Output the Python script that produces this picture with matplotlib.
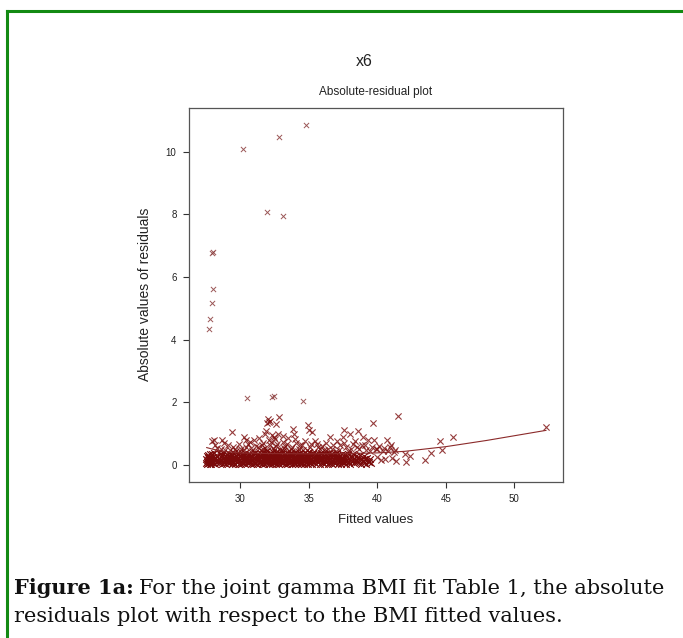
import matplotlib
matplotlib.use("Agg")
import matplotlib.pyplot as plt
from matplotlib.lines import Line2D

# ---------------- data ----------------
band_fitted = [
    27.51,27.53,27.56,27.58,27.60,27.62,27.65,27.67,27.70,27.72,27.75,27.77,27.79,27.82,27.84,27.87,27.89,27.92,27.95,27.97,28.00,28.04,28.07,28.11,28.15,28.19,28.24,28.30,28.36,28.44,
    28.50,28.53,28.57,28.60,28.64,28.67,28.71,28.74,28.78,28.81,28.85,28.88,28.92,28.95,28.99,29.02,29.06,29.09,29.13,29.16,29.20,29.23,29.27,29.30,29.34,29.37,29.41,29.44,29.47,29.49,
    29.52,29.55,29.59,29.62,29.66,29.69,29.73,29.76,29.80,29.83,29.87,29.90,29.94,29.97,30.01,30.04,30.08,30.11,30.15,30.18,30.22,30.25,30.29,30.32,30.36,30.39,30.43,30.46,30.48,30.50,
    30.53,30.56,30.60,30.63,30.67,30.70,30.74,30.77,30.81,30.84,30.88,30.91,30.95,30.98,31.02,31.05,31.09,31.12,31.16,31.19,31.23,31.26,31.30,31.33,31.37,31.40,31.44,31.47,31.49,31.51,
    31.53,31.55,31.58,31.61,31.64,31.66,31.69,31.72,31.75,31.77,31.80,31.83,31.86,31.88,31.91,31.94,31.97,31.99,32.02,32.05,32.08,32.10,32.13,32.16,32.19,32.21,32.24,32.27,32.30,32.32,32.35,32.38,32.41,32.43,32.46,32.49,
    32.52,32.54,32.57,32.60,32.63,32.65,32.68,32.71,32.74,32.76,32.79,32.82,32.85,32.87,32.90,32.93,32.96,32.98,33.01,33.04,33.07,33.09,33.12,33.15,33.18,33.20,33.23,33.26,33.29,33.31,33.34,33.37,33.40,33.42,33.45,33.48,
    33.51,33.54,33.57,33.60,33.62,33.65,33.68,33.71,33.74,33.77,33.80,33.83,33.86,33.89,33.92,33.95,33.98,34.01,34.04,34.07,34.10,34.13,34.16,34.19,34.22,34.25,34.28,34.31,34.34,34.37,34.40,34.43,34.46,34.49,
    34.52,34.55,34.58,34.61,34.64,34.67,34.70,34.73,34.76,34.79,34.82,34.85,34.88,34.91,34.94,34.97,35.00,35.03,35.06,35.09,35.12,35.15,35.18,35.21,35.24,35.27,35.30,35.33,35.36,35.40,35.44,35.48,
    35.52,35.55,35.59,35.62,35.66,35.69,35.73,35.76,35.80,35.83,35.87,35.90,35.94,35.97,36.01,36.04,36.08,36.11,36.15,36.18,36.22,36.25,36.29,36.32,36.36,36.39,36.43,36.46,36.48,36.50,
    36.53,36.57,36.60,36.64,36.67,36.71,36.74,36.78,36.81,36.85,36.88,36.92,36.95,36.99,37.02,37.06,37.09,37.13,37.16,37.20,37.23,37.27,37.30,37.34,37.37,37.41,37.44,37.48,
    37.53,37.58,37.63,37.68,37.73,37.78,37.83,37.88,37.93,37.98,38.03,38.08,38.13,38.18,38.23,38.28,38.33,38.38,38.43,38.48,
    38.55,38.62,38.68,38.75,38.81,38.88,38.94,39.01,39.07,39.14,39.20,39.27,39.33,39.40,39.48,39.56,
]
band_resid = [
    0.05,0.18,0.09,0.27,0.14,0.03,0.22,0.11,0.31,0.07,0.19,0.25,0.02,0.13,0.35,0.08,0.21,0.04,0.33,0.12,0.26,0.07,0.17,0.38,0.01,0.23,0.10,0.29,0.15,0.06,
    0.20,0.34,0.09,0.24,0.16,0.02,0.30,0.12,0.37,0.06,0.21,0.14,0.27,0.04,0.19,0.32,0.10,0.23,0.13,0.28,0.05,0.20,0.35,0.09,0.17,0.25,0.03,0.31,0.11,0.22,
    0.07,0.39,0.15,0.26,0.01,0.18,0.29,0.08,0.33,0.12,0.22,0.04,0.36,0.16,0.27,0.10,0.02,0.24,0.31,0.14,0.06,0.20,0.28,0.11,0.37,0.03,0.17,0.25,0.09,0.32,
    0.19,0.05,0.28,0.13,0.36,0.08,0.22,0.01,0.30,0.16,0.26,0.10,0.34,0.04,0.21,0.12,0.39,0.07,0.24,0.17,0.29,0.02,0.14,0.33,0.09,0.20,0.27,0.06,0.18,0.35,
    0.11,0.27,0.04,0.33,0.18,0.08,0.40,0.23,0.14,0.02,0.30,0.19,0.06,0.36,0.25,0.12,0.44,0.09,0.21,0.31,0.03,0.16,0.28,0.38,0.07,0.24,0.13,0.35,0.01,0.20,0.29,0.10,0.42,0.17,0.05,0.26,
    0.32,0.08,0.19,0.41,0.03,0.26,0.14,0.35,0.06,0.22,0.29,0.11,0.38,0.01,0.17,0.24,0.09,0.33,0.20,0.05,0.27,0.13,0.44,0.07,0.30,0.16,0.23,0.02,0.36,0.12,0.19,0.28,0.04,0.39,0.15,0.25,
    0.10,0.34,0.21,0.05,0.28,0.15,0.39,0.08,0.24,0.02,0.31,0.18,0.12,0.36,0.06,0.26,0.20,0.42,0.03,0.14,0.30,0.09,0.23,0.35,0.01,0.17,0.27,0.11,0.38,0.07,0.22,0.32,0.04,0.19,
    0.26,0.07,0.33,0.16,0.01,0.22,0.38,0.11,0.29,0.05,0.19,0.35,0.13,0.24,0.03,0.31,0.09,0.21,0.40,0.15,0.06,0.27,0.18,0.34,0.02,0.12,0.25,0.37,0.08,0.20,0.30,0.14,
    0.04,0.23,0.36,0.12,0.28,0.08,0.19,0.33,0.02,0.25,0.15,0.39,0.10,0.21,0.30,0.06,0.17,0.27,0.01,0.35,0.13,0.22,0.09,0.31,0.18,0.04,0.26,0.14,0.37,0.07,
    0.18,0.31,0.05,0.24,0.12,0.36,0.02,0.20,0.28,0.09,0.15,0.33,0.06,0.22,0.27,0.11,0.38,0.03,0.17,0.25,0.08,0.30,0.14,0.21,0.01,0.34,0.10,0.19,
    0.22,0.07,0.30,0.13,0.02,0.26,0.16,0.35,0.09,0.20,0.04,0.28,0.12,0.24,0.33,0.06,0.18,0.10,0.27,0.14,
    0.08,0.25,0.15,0.32,0.03,0.20,0.11,0.28,0.06,0.17,0.02,0.23,0.13,0.09,0.19,0.05,
]

mid_fitted = [27.98,28.13,28.67,28.30,28.90,29.42,29.10,29.70,30.27,30.44,30.10,30.60,30.90,31.02,31.30,31.50,
              31.65,31.80,31.90,31.95,32.05,32.12,32.20,32.30,32.15,32.40,32.60,32.55,32.70,32.87,32.90,33.10,
              33.30,33.50,33.60,33.84,33.96,34.10,34.30,34.50,34.70,34.98,35.00,35.27,35.10,35.47,35.60,35.80,
              36.00,36.20,36.54,36.40,36.80,37.05,37.20,37.48,37.58,37.70,38.00,38.20,38.40,38.58,38.70,38.96,
              39.10,39.35,39.50,39.72,39.79,39.90,40.10,40.50,40.69,41.00,40.80,41.20,41.49,42.03,42.41,42.08,
              43.50,43.92,44.58,44.70,45.52,52.30,41.40,40.30,39.95,40.60,41.10,
              28.50,29.30,30.00,30.80,31.10,31.70,32.00,32.50,33.00,33.70,34.20,34.90,35.40,36.10,37.00,37.90,
              28.20,28.80,29.50,29.90,30.30,30.70,31.20,31.40,31.85,32.25,32.45,32.65,32.80,33.20,33.40,33.80,
              34.00,34.40,34.60,35.20,35.70,36.30,36.70,37.30,37.60,38.10,38.50,38.90,39.20,39.60,40.00,40.40,
              40.90,41.30,33.15,32.10,31.60,30.40,29.60,28.60]
mid_resid = [0.77,0.80,0.79,0.55,0.48,1.04,0.62,0.45,0.90,0.79,0.52,0.66,0.45,0.78,0.58,0.47,
             0.70,0.98,1.07,1.32,1.45,1.38,1.40,0.95,0.62,0.55,1.30,0.82,0.68,1.52,0.49,0.73,
             0.60,0.85,0.45,1.15,0.99,0.70,0.52,0.62,0.75,1.28,1.12,1.05,0.58,0.75,0.68,0.50,
             0.60,0.45,0.90,0.52,0.62,0.75,0.48,0.90,1.12,0.58,0.99,0.66,0.75,1.09,0.50,0.90,
             0.62,0.80,0.45,1.32,0.79,0.52,0.60,0.53,0.78,0.63,0.45,0.40,1.57,0.36,0.29,0.09,
             0.16,0.39,0.75,0.46,0.90,1.20,0.12,0.14,0.25,0.18,0.22,
             0.42,0.47,0.43,0.55,0.41,0.52,0.46,0.47,0.44,0.50,0.43,0.46,0.42,0.48,0.43,0.45,
             0.62,0.70,0.58,0.66,0.48,0.74,0.60,0.85,0.55,0.72,0.88,0.60,1.00,0.55,0.68,0.58,
             0.82,0.63,0.48,0.67,0.57,0.71,0.49,0.62,0.70,0.52,0.58,0.64,0.47,0.56,0.50,0.44,
             0.58,0.48,0.92,0.80,0.62,0.58,0.52,0.50]

high_fitted = [27.74,27.81,27.94,28.05,27.98,28.00,30.20,31.95,32.87,33.13,34.81,30.49,32.36,32.46,34.62]
high_resid = [4.35,4.65,5.18,5.61,6.78,6.81,10.10,8.07,10.46,7.96,10.87,2.12,2.16,2.21,2.04]

smooth_fitted = [27.57,28.00,28.80,30.00,32.00,35.00,38.00,40.00,42.00,45.00,48.00,52.30]
smooth_resid = [0.55,0.50,0.43,0.38,0.36,0.35,0.36,0.38,0.43,0.58,0.78,1.10]

x_ticks = [30, 35, 40, 45, 50]
y_ticks = [0, 2, 4, 6, 8, 10]

# ---------------- figure ----------------
W, H = 683, 638
fig = plt.figure(figsize=(W / 100, H / 100), dpi=100)
fig.patch.set_facecolor("white")

# green frame (top and left)
green = "#138a13"
fig.add_artist(Line2D([7 / W, 1.0], [1 - 11 / H, 1 - 11 / H], color=green, lw=2.2, transform=fig.transFigure))
fig.add_artist(Line2D([7 / W, 7 / W], [0.0, 1 - 11 / H], color=green, lw=2.2, transform=fig.transFigure))

ax = fig.add_axes([189 / W, 1 - 481.7 / H, (562.7 - 189) / W, (481.7 - 107.7) / H])
mc = "#7a0a0a"
ax.scatter(band_fitted, band_resid, marker="x", s=22, color=mc, linewidths=0.85)
ax.scatter(mid_fitted, mid_resid, marker="x", s=20, color=mc, linewidths=0.8, alpha=0.8)
ax.scatter(high_fitted, high_resid, marker="x", s=14, color="#8a3a3a", linewidths=0.7, alpha=0.85)
ax.plot(smooth_fitted, smooth_resid, color="#8b2a2a", lw=0.8)

ax.set_xlim(26.28, 53.52)
ax.set_ylim(-0.54, 11.41)
ax.set_xticks(x_ticks)
ax.set_yticks(y_ticks)
ax.tick_params(direction="out", length=4, width=0.8, colors="#333333", labelsize=7, pad=5)
for sp in ax.spines.values():
    sp.set_color("#555555")
    sp.set_linewidth(0.9)

font = "Liberation Sans"
for lab in ax.get_xticklabels() + ax.get_yticklabels():
    lab.set_fontfamily(font)
    lab.set_color("#222222")

ax.set_xlabel("Fitted values", fontsize=9.5, family=font, labelpad=7, color="#222222")
ax.set_ylabel("Absolute values of residuals", fontsize=10, family=font, labelpad=10, color="#222222")
ax.set_title("Absolute-residual plot", fontsize=8.5, family=font, pad=9, color="#222222")
fig.text(364 / W, 1 - 61 / H, "x6", ha="center", va="center", fontsize=11.5, family=font, color="#222222")

# caption
serif = ["DejaVu Serif"]
cap_size = 15
t1 = fig.text(14 / W, 1 - 594 / H, "Figure 1a:", fontsize=cap_size, family=serif, weight="bold",
              ha="left", va="baseline", color="#111111")
renderer = fig.canvas.get_renderer()
bb = t1.get_window_extent(renderer=renderer)
fig.text((bb.x1 + 5) / W, 1 - 594 / H, "For the joint gamma BMI fit Table 1, the absolute",
         fontsize=cap_size, family=serif, ha="left", va="baseline", color="#111111")
fig.text(14 / W, 1 - 622 / H, "residuals plot with respect to the BMI fitted values.",
         fontsize=cap_size, family=serif, ha="left", va="baseline", color="#111111")

fig.savefig("out.png", dpi=100)
